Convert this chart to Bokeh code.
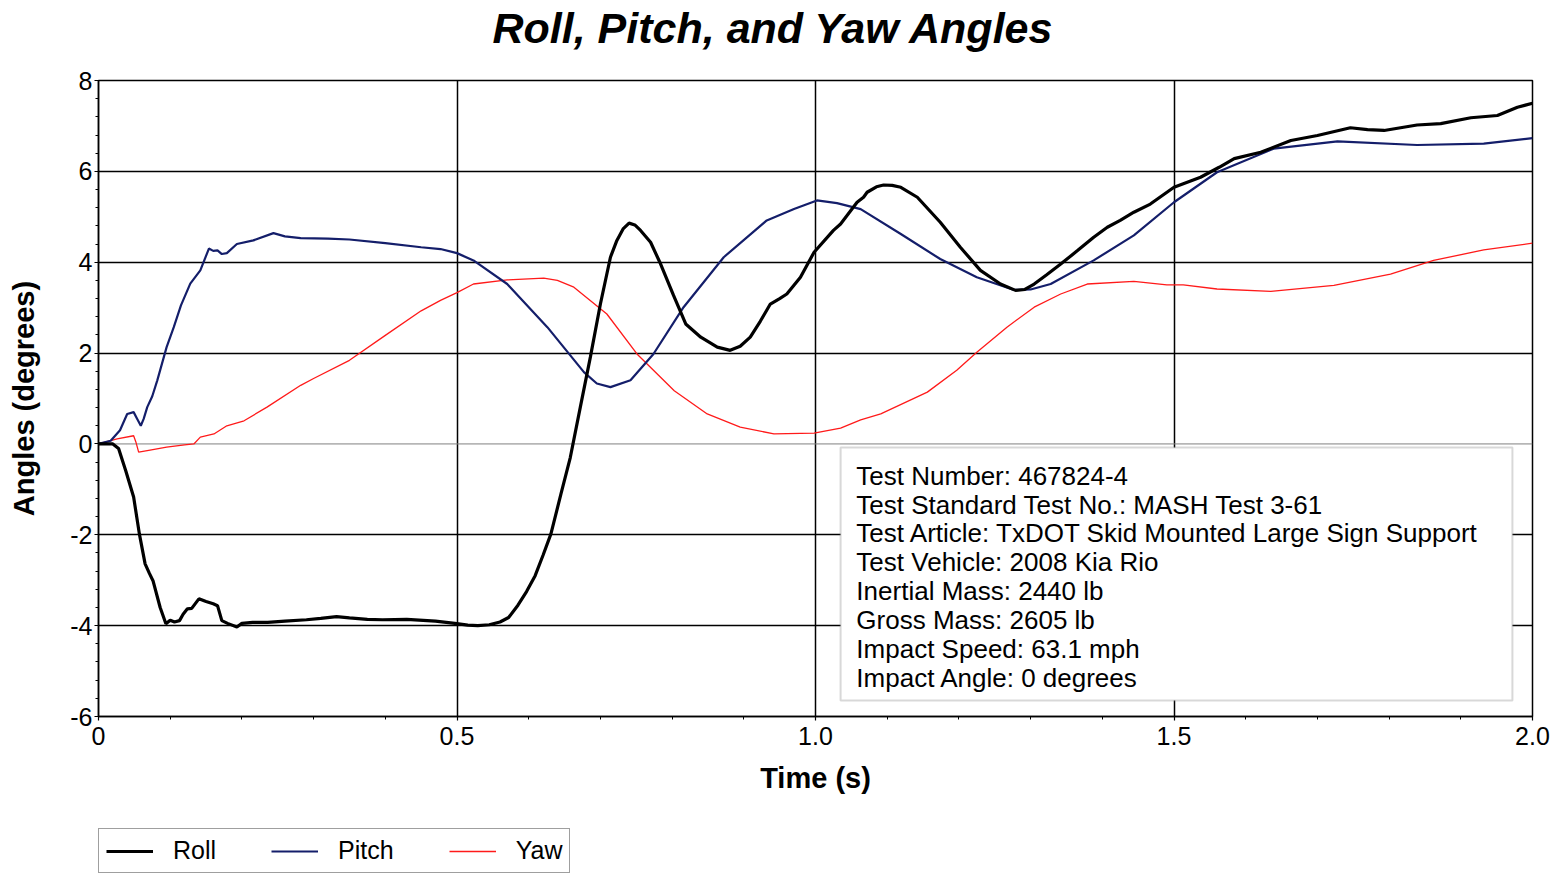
import numpy as np
from bokeh.plotting import figure
from bokeh.layouts import column
from bokeh.models import (FixedTicker, Span, BoxAnnotation, Label, Legend,
                          LegendItem, Range1d, Title)
from bokeh.embed import file_html
from bokeh.resources import INLINE

# ---------------- data ----------------
time_roll = [0, 0.02, 0.028, 0.038, 0.049, 0.057, 0.065, 0.071, 0.076, 0.086,
             0.094, 0.100, 0.106, 0.113, 0.118, 0.124, 0.130, 0.140, 0.150, 0.160,
             0.166, 0.172, 0.180, 0.193, 0.200, 0.215, 0.236, 0.260, 0.290, 0.310,
             0.332, 0.350, 0.375, 0.396, 0.430, 0.470, 0.497, 0.515, 0.529, 0.545,
             0.560, 0.572, 0.585, 0.597, 0.609, 0.620, 0.631, 0.645, 0.658, 0.672,
             0.686, 0.700, 0.714, 0.723, 0.732, 0.740, 0.748, 0.756, 0.770, 0.784,
             0.802, 0.819, 0.840, 0.863, 0.881, 0.895, 0.909, 0.923, 0.937, 0.950,
             0.960, 0.979, 0.998, 1.025, 1.035, 1.058, 1.067, 1.072, 1.085, 1.095,
             1.107, 1.119, 1.142, 1.174, 1.202, 1.230, 1.258, 1.279, 1.292, 1.305,
             1.322, 1.342, 1.365, 1.388, 1.407, 1.425, 1.444, 1.467, 1.500, 1.537,
             1.563, 1.584, 1.621, 1.663, 1.700, 1.746, 1.770, 1.793, 1.839, 1.872,
             1.914, 1.951, 1.979, 2.0]
roll = [0, 0, -0.10, -0.59, -1.17, -1.98, -2.64, -2.85, -3.01, -3.60,
        -3.96, -3.88, -3.92, -3.89, -3.75, -3.63, -3.62, -3.41, -3.47, -3.52,
        -3.56, -3.89, -3.95, -4.03, -3.95, -3.93, -3.93, -3.90, -3.87, -3.84,
        -3.80, -3.83, -3.86, -3.87, -3.86, -3.90, -3.95, -3.99, -4.00, -3.98,
        -3.92, -3.82, -3.55, -3.25, -2.90, -2.45, -1.98, -1.10, -0.30, 0.81,
        1.91, 3.08, 4.11, 4.48, 4.74, 4.86, 4.82, 4.70, 4.44, 3.96,
        3.27, 2.64, 2.35, 2.13, 2.06, 2.15, 2.35, 2.70, 3.08, 3.20,
        3.30, 3.67, 4.22, 4.70, 4.84, 5.32, 5.43, 5.54, 5.66, 5.70,
        5.69, 5.65, 5.43, 4.88, 4.33, 3.82, 3.52, 3.38, 3.40, 3.52,
        3.72, 3.96, 4.25, 4.55, 4.77, 4.92, 5.10, 5.28, 5.65, 5.87,
        6.09, 6.28, 6.42, 6.68, 6.79, 6.96, 6.92, 6.90, 7.02, 7.05,
        7.18, 7.23, 7.41, 7.50]

time_pitch = [0, 0.017, 0.030, 0.040, 0.049, 0.054, 0.059, 0.063, 0.068, 0.075,
              0.082, 0.095, 0.105, 0.115, 0.128, 0.142, 0.154, 0.160, 0.166, 0.172,
              0.179, 0.193, 0.216, 0.244, 0.260, 0.282, 0.320, 0.350, 0.400, 0.450,
              0.477, 0.500, 0.523, 0.570, 0.626, 0.677, 0.695, 0.714, 0.742, 0.774,
              0.816, 0.872, 0.932, 0.970, 1.002, 1.030, 1.063, 1.119, 1.174, 1.225,
              1.277, 1.300, 1.328, 1.388, 1.444, 1.500, 1.560, 1.639, 1.728, 1.839,
              1.932, 2.0]
pitch = [0, 0.07, 0.30, 0.66, 0.70, 0.55, 0.40, 0.55, 0.81, 1.05,
         1.40, 2.13, 2.57, 3.05, 3.53, 3.82, 4.30, 4.25, 4.26, 4.18,
         4.20, 4.40, 4.48, 4.64, 4.57, 4.53, 4.52, 4.50, 4.42, 4.33,
         4.29, 4.20, 4.04, 3.52, 2.57, 1.58, 1.33, 1.25, 1.40, 1.98,
         3.01, 4.11, 4.92, 5.17, 5.36, 5.30, 5.17, 4.62, 4.07, 3.67,
         3.39, 3.40, 3.52, 4.04, 4.59, 5.32, 5.98, 6.50, 6.66, 6.58,
         6.61, 6.73]

time_yaw = [0, 0.026, 0.049, 0.052, 0.056, 0.070, 0.095, 0.120, 0.133, 0.142,
            0.161, 0.179, 0.203, 0.235, 0.282, 0.300, 0.350, 0.400, 0.450, 0.477,
            0.500, 0.523, 0.570, 0.621, 0.640, 0.663, 0.709, 0.751, 0.803, 0.849,
            0.895, 0.942, 0.998, 1.035, 1.063, 1.091, 1.156, 1.197, 1.225, 1.267,
            1.305, 1.342, 1.379, 1.444, 1.490, 1.513, 1.560, 1.635, 1.723, 1.802,
            1.862, 1.932, 2.0]
yaw = [0, 0.11, 0.18, 0.05, -0.18, -0.14, -0.07, -0.02, 0, 0.15,
       0.22, 0.40, 0.51, 0.81, 1.29, 1.44, 1.84, 2.39, 2.93, 3.16,
       3.33, 3.52, 3.61, 3.65, 3.60, 3.45, 2.86, 1.98, 1.17, 0.66,
       0.37, 0.22, 0.24, 0.35, 0.53, 0.66, 1.14, 1.62, 2.02, 2.57,
       3.01, 3.30, 3.52, 3.58, 3.50, 3.50, 3.41, 3.36, 3.49, 3.74,
       4.04, 4.27, 4.42]

series_names = ["Roll", "Pitch", "Yaw"]
series_colors = ["black", "#141e6a", "#ff1a1a"]
series_widths = [3.2, 2.2, 1.3]
x_ticks = [0, 0.5, 1.0, 1.5, 2.0]
x_tick_labels = ["0", "0.5", "1.0", "1.5", "2.0"]
y_ticks = [-6, -4, -2, 0, 2, 4, 6, 8]
y_tick_labels = ["-6", "-4", "-2", "0", "2", "4", "6", "8"]
info_lines = [
    "Test Number: 467824-4",
    "Test Standard Test No.: MASH Test 3-61",
    "Test Article: TxDOT Skid Mounted Large Sign Support",
    "Test Vehicle: 2008 Kia Rio",
    "Inertial Mass: 2440 lb",
    "Gross Mass: 2605 lb",
    "Impact Speed: 63.1 mph",
    "Impact Angle: 0 degrees",
]

FONT = "Liberation Sans"

p = figure(width=1560, height=810, output_backend="svg", toolbar_location=None,
           x_range=Range1d(0, 2), y_range=Range1d(-6, 8),
           min_border_left=98, min_border_right=28, min_border_top=80,
           min_border_bottom=94, background_fill_color="white",
           border_fill_color="white")

# title (a blank spacer title keeps a gap between the title and the frame)
p.title.text = "Roll, Pitch, and Yaw Angles"
p.title.text_font = FONT
p.title.text_font_size = "43px"
p.title.text_font_style = "bold italic"
p.title.text_color = "black"
p.title.align = "left"
p.title.offset = 394
p.title.standoff = 0
p.add_layout(Title(text=" ", text_font_size="1px", standoff=26), "above")

p.outline_line_color = "black"
p.outline_line_width = 1.5

# axes
p.xaxis.ticker = FixedTicker(ticks=x_ticks,
                             minor_ticks=list(np.round(np.arange(0, 2.0001, 0.1), 2)))
p.xaxis.major_label_overrides = dict(zip(x_ticks, x_tick_labels))
p.yaxis.ticker = FixedTicker(ticks=y_ticks,
                             minor_ticks=list(np.round(np.arange(-6, 8.0001, 0.4), 2)))
p.yaxis.major_label_overrides = dict(zip(y_ticks, y_tick_labels))
p.xaxis.axis_label = "Time (s)"
p.yaxis.axis_label = "Angles (degrees)"
for ax in (p.xaxis, p.yaxis):
    ax.axis_line_color = "black"
    ax.axis_line_width = 1.5
    ax.major_tick_line_color = "black"
    ax.major_tick_line_width = 1.2
    ax.minor_tick_line_color = "black"
    ax.minor_tick_line_width = 1
    ax.major_tick_in = 0
    ax.major_tick_out = 4
    ax.minor_tick_in = 0
    ax.minor_tick_out = 3
    ax.major_label_text_font = FONT
    ax.major_label_text_font_size = "25px"
    ax.major_label_text_color = "black"
    ax.axis_label_text_font = FONT
    ax.axis_label_text_font_size = "29px"
    ax.axis_label_text_font_style = "bold"
    ax.axis_label_text_color = "black"
p.xaxis.major_label_standoff = 6
p.xaxis.axis_label_standoff = 14
p.yaxis.major_label_standoff = 2
p.yaxis.axis_label_standoff = 27

# grid
p.xgrid.ticker = FixedTicker(ticks=[0.5, 1.0, 1.5])
p.ygrid.ticker = FixedTicker(ticks=[-4, -2, 2, 4, 6])
for g in (p.xgrid, p.ygrid):
    g.grid_line_color = "black"
    g.grid_line_width = 1.5
p.add_layout(Span(location=0, dimension="width", line_color="#808080",
                  line_width=1, level="underlay"))

# series
series = [(time_roll, roll), (time_pitch, pitch), (time_yaw, yaw)]
for k in (2, 1, 0):
    p.line(series[k][0], series[k][1], line_color=series_colors[k],
           line_width=series_widths[k])

# info box
p.add_layout(BoxAnnotation(left=1.035, right=1.972, top=-0.08, bottom=-5.65,
                           fill_color="white", fill_alpha=1,
                           line_color="#7f7f7f", line_width=2))
for i, line in enumerate(info_lines):
    p.add_layout(Label(x=1.057, y=-0.70, y_offset=-i * 28.85, text=line,
                       text_font=FONT, text_font_size="26px",
                       text_color="black", text_baseline="alphabetic"))

# legend strip below the chart (its own series copies are kept out of view)
pl = figure(width=1560, height=65, output_backend="svg", toolbar_location=None,
            x_range=Range1d(10, 11), y_range=Range1d(10, 11),
            x_axis_type=None, y_axis_type=None, min_border=0,
            outline_line_color=None, background_fill_color="white",
            border_fill_color="white")
legend_renderers = [pl.line(s[0], s[1], line_color=c, line_width=w)
                    for s, c, w in zip(series, series_colors, series_widths)]
legend = Legend(items=[LegendItem(label=n, renderers=[r])
                       for n, r in zip(series_names, legend_renderers)],
                orientation="horizontal", location=(0, 2))
legend.label_text_font = FONT
legend.label_text_font_size = "25px"
legend.label_text_color = "black"
legend.glyph_width = 47
legend.glyph_height = 20
legend.label_standoff = 20
legend.spacing = 55
legend.padding = 7
legend.margin = 0
legend.border_line_color = "#404040"
legend.border_line_width = 1.5
legend.background_fill_color = "white"
legend.background_fill_alpha = 1
pl.add_layout(legend, "center")

layout = column(p, pl, spacing=0)
open("out.html", "w").write(file_html(layout, INLINE, "Roll, Pitch, and Yaw Angles"))
